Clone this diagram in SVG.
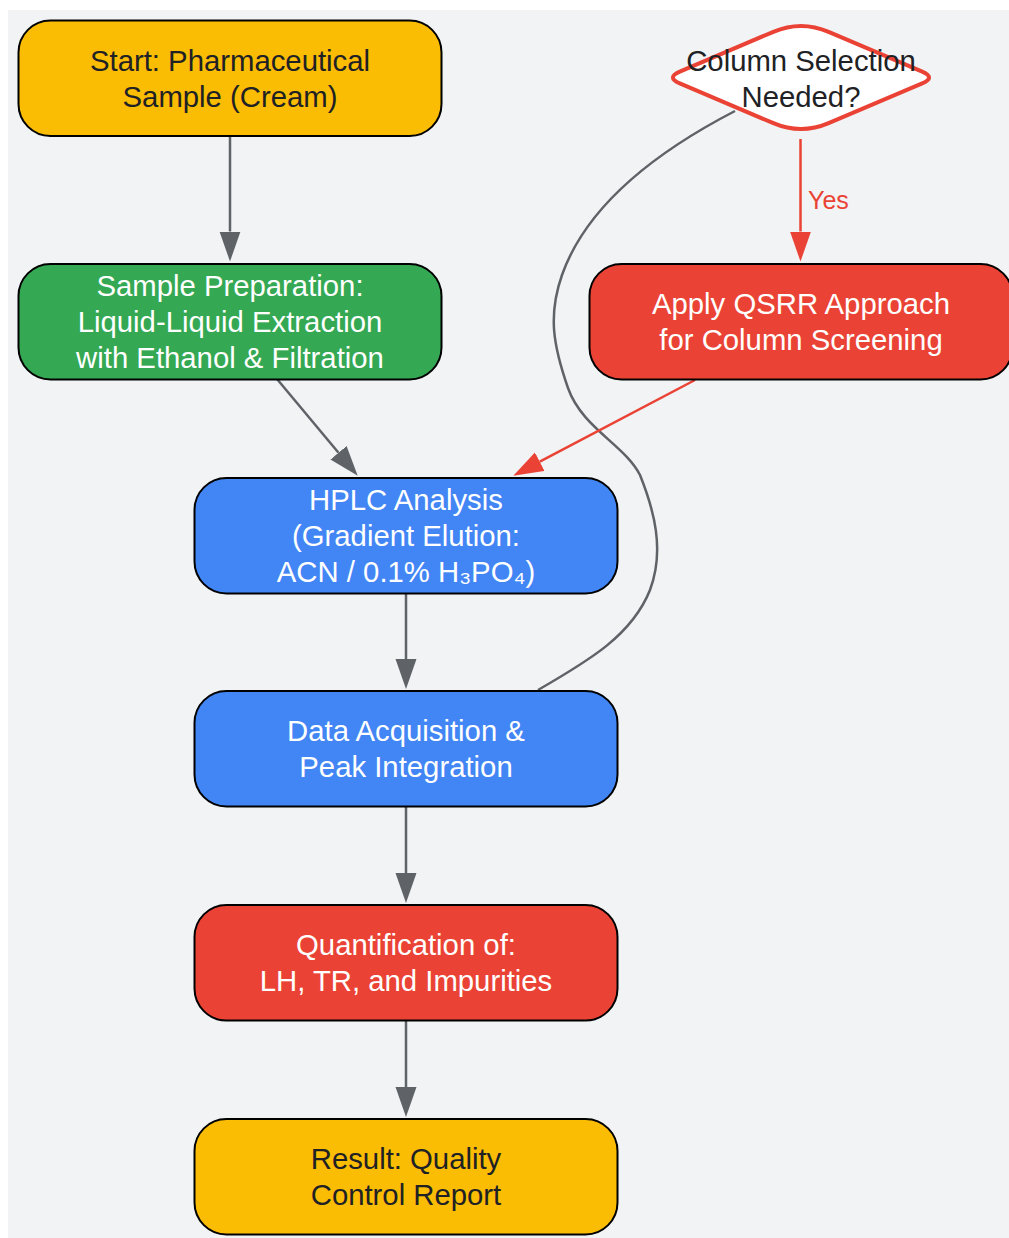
<svg xmlns="http://www.w3.org/2000/svg" width="1009" height="1238" viewBox="0 0 1009 1238">
<style>
  .node rect { stroke: #000; stroke-width: 2; }
  .t { font-family: "Liberation Sans", Arial, "DejaVu Sans", sans-serif; font-size: 29.3px; text-anchor: middle; }
  .dark { fill: #202124; }
  .light { fill: #ffffff; }
  .edge { fill: none; stroke: #5f6368; stroke-width: 2.5; }
  .edge-red { fill: none; stroke: #ea4335; stroke-width: 2.5; }
  .lbl { font-family: "Liberation Sans", Arial, sans-serif; font-size: 25px; fill: #ea4335; }
</style>
<defs>
  <marker id="arrGray" markerUnits="userSpaceOnUse" markerWidth="31" markerHeight="22" refX="0" refY="10.5" orient="auto">
    <path d="M0,0 L30,10.5 L0,21 Z" fill="#5f6368"/>
  </marker>
  <marker id="arrRed" markerUnits="userSpaceOnUse" markerWidth="31" markerHeight="22" refX="0" refY="10.5" orient="auto">
    <path d="M0,0 L30,10.5 L0,21 Z" fill="#ea4335"/>
  </marker>
</defs>
<rect x="0" y="0" width="1009" height="1238" fill="#ffffff"/>
<rect x="8" y="10" width="1001" height="1228" fill="#f1f3f4"/>

<g id="connectors">
  <path class="edge" d="M735,111 C650,155 585,210 562,275 C548,315 553,345 568,388 C582,428 625,445 640,475 C654,510 665,550 650,590 C632,635 590,660 538,690"/>
  <path class="edge" d="M230,136 L230,231.5" marker-end="url(#arrGray)"/>
  <path class="edge" d="M277,379 L338.5,452.7" marker-end="url(#arrGray)"/>
  <path class="edge-red" d="M695,380 L539.8,461.7" marker-end="url(#arrRed)"/>
  <path class="edge-red" d="M800.5,139 L800.5,231.5" marker-end="url(#arrRed)"/>
  <path class="edge" d="M406,594 L406,659" marker-end="url(#arrGray)"/>
  <path class="edge" d="M406,807 L406,873" marker-end="url(#arrGray)"/>
  <path class="edge" d="M406,1021 L406,1087" marker-end="url(#arrGray)"/>
  <text class="lbl" x="808" y="208.5">Yes</text>
</g>

<g id="start" class="node">
  <rect x="18.5" y="20.5" width="423" height="115.5" rx="32" ry="32" fill="#fbbc04"/>
  <text class="t dark" x="230" y="70.5">Start: Pharmaceutical</text>
  <text class="t dark" x="230" y="106.5">Sample (Cream)</text>
</g>

<g id="prep" class="node">
  <rect x="18.5" y="264" width="423" height="115.5" rx="32" ry="32" fill="#34a853"/>
  <text class="t light" x="230" y="296">Sample Preparation:</text>
  <text class="t light" x="230" y="332">Liquid-Liquid Extraction</text>
  <text class="t light" x="230" y="368">with Ethanol &amp; Filtration</text>
</g>

<g id="decision" class="node">
  <path d="M773.4,31.8 Q801,20 828.6,31.8 L922.2,71.6 Q936,77.5 922.2,83.4 L828.6,123.2 Q801,135 773.4,123.2 L679.8,83.4 Q666,77.5 679.8,71.6 Z" fill="#ffffff" stroke="#ea4335" stroke-width="4"/>
  <text class="t dark" x="801" y="70.5">Column Selection</text>
  <text class="t dark" x="801" y="106.5">Needed?</text>
</g>

<g id="qsrr" class="node">
  <rect x="589.5" y="264" width="423" height="115.5" rx="32" ry="32" fill="#ea4335"/>
  <text class="t light" x="801" y="314">Apply QSRR Approach</text>
  <text class="t light" x="801" y="350">for Column Screening</text>
</g>

<g id="hplc" class="node">
  <rect x="194.5" y="478" width="423" height="115.5" rx="32" ry="32" fill="#4285f4"/>
  <text class="t light" x="406" y="510">HPLC Analysis</text>
  <text class="t light" x="406" y="546">(Gradient Elution:</text>
  <text class="t light" x="406" y="582">ACN / 0.1% H₃PO₄)</text>
</g>

<g id="data" class="node">
  <rect x="194.5" y="691" width="423" height="115.5" rx="32" ry="32" fill="#4285f4"/>
  <text class="t light" x="406" y="741">Data Acquisition &amp;</text>
  <text class="t light" x="406" y="777">Peak Integration</text>
</g>

<g id="quant" class="node">
  <rect x="194.5" y="905" width="423" height="115.5" rx="32" ry="32" fill="#ea4335"/>
  <text class="t light" x="406" y="955">Quantification of:</text>
  <text class="t light" x="406" y="991">LH, TR, and Impurities</text>
</g>

<g id="result" class="node">
  <rect x="194.5" y="1119" width="423" height="115.5" rx="32" ry="32" fill="#fbbc04"/>
  <text class="t dark" x="406" y="1169">Result: Quality</text>
  <text class="t dark" x="406" y="1205">Control Report</text>
</g>
</svg>
